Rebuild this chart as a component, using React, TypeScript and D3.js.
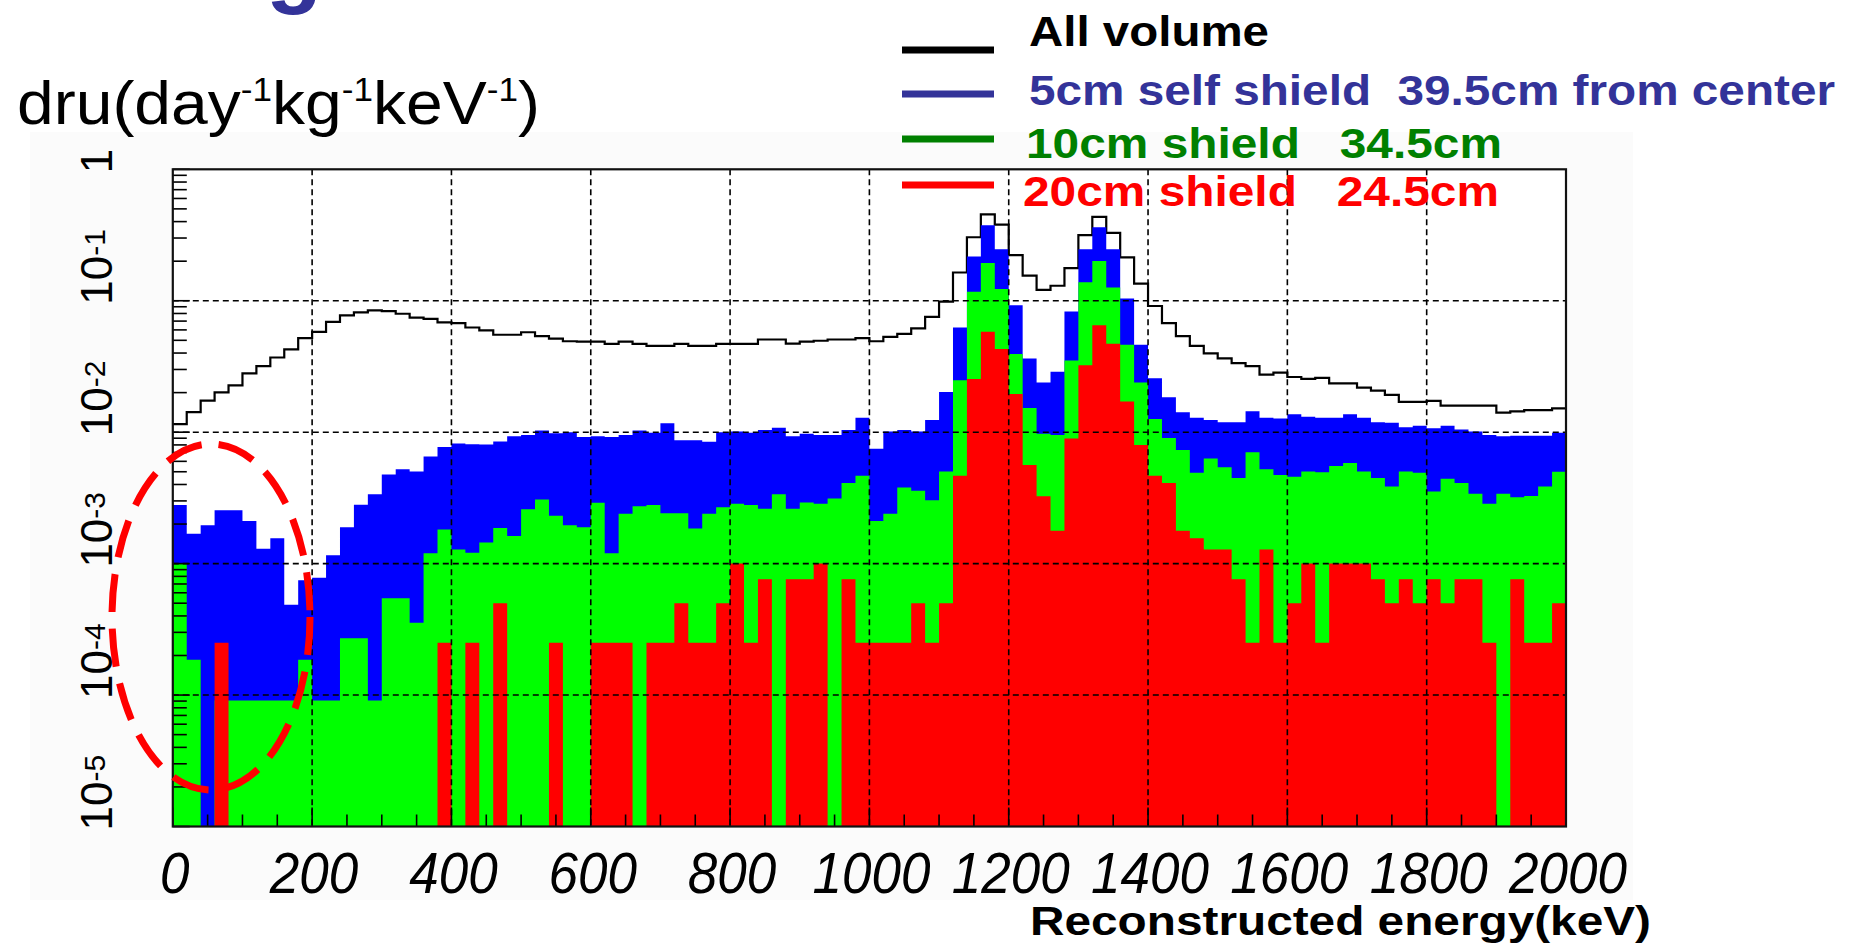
import React from 'react';
import * as d3 from 'd3';

// ---------- data (dru per 20 keV bin, 0-2000 keV) ----------
const binWidthKeV = 20;
const xTickValues = [0, 200, 400, 600, 800, 1000, 1200, 1400, 1600, 1800, 2000];
const yDecadeExponents = [0, -1, -2, -3, -4, -5];

const allVolume = [
  1.15e-2, 1.42e-2, 1.74e-2, 2.01e-2, 2.27e-2, 2.80e-2, 3.18e-2, 3.70e-2, 4.27e-2, 5.19e-2,
  5.80e-2, 6.90e-2, 7.73e-2, 8.15e-2, 8.46e-2, 8.33e-2, 7.96e-2, 7.44e-2, 7.28e-2, 6.85e-2,
  6.75e-2, 6.26e-2, 5.94e-2, 5.51e-2, 5.51e-2, 5.76e-2, 5.38e-2, 5.15e-2, 4.92e-2, 4.89e-2,
  4.89e-2, 4.70e-2, 4.89e-2, 4.70e-2, 4.53e-2, 4.53e-2, 4.70e-2, 4.53e-2, 4.53e-2, 4.70e-2,
  4.70e-2, 4.70e-2, 5.07e-2, 5.07e-2, 4.72e-2, 4.89e-2, 4.96e-2, 5.07e-2, 5.07e-2, 5.19e-2,
  4.92e-2, 5.31e-2, 5.60e-2, 6.17e-2, 7.55e-2, 9.84e-2, 0.164, 0.304, 0.454, 0.38,
  0.222, 0.155, 0.121, 0.130, 0.177, 0.316, 0.434, 0.328, 0.214, 0.135,
  9.12e-2, 6.75e-2, 5.38e-2, 4.53e-2, 3.98e-2, 3.64e-2, 3.35e-2, 3.18e-2, 2.74e-2, 2.84e-2,
  2.63e-2, 2.54e-2, 2.59e-2, 2.35e-2, 2.35e-2, 2.18e-2, 2.07e-2, 1.92e-2, 1.70e-2, 1.70e-2,
  1.73e-2, 1.59e-2, 1.59e-2, 1.59e-2, 1.59e-2, 1.41e-2, 1.44e-2, 1.47e-2, 1.47e-2, 1.52e-2,
];

const selfShield5cm = [
  2.79e-3, 1.69e-3, 1.96e-3, 2.55e-3, 2.55e-3, 2.11e-3, 1.30e-3, 1.56e-3, 4.87e-4, 7.48e-4,
  7.82e-4, 1.16e-3, 1.89e-3, 2.81e-3, 3.37e-3, 4.77e-3, 5.22e-3, 5.02e-3, 6.54e-3, 7.71e-3,
  8.2e-3, 8.1e-3, 8.05e-3, 8.5e-3, 9.3e-3, 9.5e-3, 1.03e-2, 9.8e-3, 1.0e-2, 9.2e-3,
  9.3e-3, 9.2e-3, 9.5e-3, 1.03e-2, 9.9e-3, 1.17e-2, 8.7e-3, 8.7e-3, 8.45e-3, 1.0e-2,
  1.01e-2, 9.9e-3, 1.04e-2, 1.08e-2, 9.3e-3, 9.75e-3, 9.5e-3, 9.5e-3, 1.04e-2, 1.29e-2,
  7.49e-3, 1.01e-2, 1.04e-2, 1.01e-2, 1.24e-2, 2.02e-2, 6.26e-2, 0.217, 0.376, 0.246,
  9.26e-2, 3.64e-2, 2.39e-2, 2.88e-2, 8.27e-2, 0.246, 0.362, 0.246, 0.104, 4.63e-2,
  2.57e-2, 1.84e-2, 1.42e-2, 1.29e-2, 1.24e-2, 1.19e-2, 1.19e-2, 1.44e-2, 1.29e-2, 1.27e-2,
  1.37e-2, 1.31e-2, 1.29e-2, 1.29e-2, 1.37e-2, 1.29e-2, 1.19e-2, 1.18e-2, 1.09e-2, 1.12e-2,
  1.07e-2, 1.12e-2, 1.05e-2, 1.01e-2, 9.5e-3, 9.3e-3, 9.4e-3, 9.4e-3, 9.4e-3, 9.9e-3,
];

const shield10cm = [
  1.0e-3, 1.86e-4, 0, 9.1e-5, 9.1e-5, 9.1e-5, 9.1e-5, 9.1e-5, 9.1e-5, 1.86e-4,
  9.1e-5, 9.1e-5, 2.71e-4, 2.71e-4, 9.1e-5, 5.45e-4, 5.45e-4, 3.55e-4, 1.2e-3, 1.82e-3,
  1.28e-3, 1.21e-3, 1.45e-3, 1.87e-3, 1.62e-3, 2.59e-3, 3.08e-3, 2.31e-3, 1.96e-3, 1.89e-3,
  2.90e-3, 1.20e-3, 2.40e-3, 2.73e-3, 2.79e-3, 2.42e-3, 2.42e-3, 1.85e-3, 2.40e-3, 2.69e-3,
  2.86e-3, 2.79e-3, 2.61e-3, 3.37e-3, 2.61e-3, 2.92e-3, 2.86e-3, 3.13e-3, 4.1e-3, 4.66e-3,
  2.11e-3, 2.40e-3, 3.8e-3, 3.58e-3, 3.03e-3, 5.02e-3, 2.48e-2, 0.117, 0.194, 0.123,
  3.93e-2, 1.53e-2, 9.75e-3, 9.5e-3, 3.51e-2, 0.138, 0.201, 0.126, 4.63e-2, 2.39e-2,
  1.26e-2, 9.04e-3, 7.32e-3, 4.91e-3, 6.3e-3, 5.42e-3, 4.49e-3, 7.05e-3, 5.22e-3, 4.73e-3,
  4.59e-3, 5.02e-3, 4.95e-3, 5.54e-3, 5.84e-3, 5.02e-3, 4.49e-3, 3.86e-3, 5.02e-3, 4.91e-3,
  3.53e-3, 4.42e-3, 4.1e-3, 3.40e-3, 2.86e-3, 3.40e-3, 3.2e-3, 3.27e-3, 3.86e-3, 4.99e-3,
];

const shield20cm = [
  0, 0, 0, 2.5e-4, 0, 0, 0, 0, 0, 0,
  0, 0, 0, 0, 0, 0, 0, 0, 0, 2.5e-4,
  0, 2.5e-4, 0, 5.0e-4, 0, 0, 0, 2.5e-4, 0, 0,
  2.5e-4, 2.5e-4, 2.5e-4, 0, 2.5e-4, 2.5e-4, 5.0e-4, 2.5e-4, 2.5e-4, 5.0e-4,
  1.0e-3, 2.5e-4, 7.6e-4, 0, 7.6e-4, 7.6e-4, 1.0e-3, 0, 7.6e-4, 2.5e-4,
  2.5e-4, 2.5e-4, 2.5e-4, 5.0e-4, 2.5e-4, 5.0e-4, 4.66e-3, 2.54e-2, 5.8e-2, 4.3e-2,
  1.95e-2, 5.62e-3, 3.25e-3, 1.78e-3, 8.97e-3, 3.23e-2, 6.5e-2, 4.7e-2, 1.71e-2, 8.0e-3,
  4.66e-3, 4.1e-3, 1.78e-3, 1.56e-3, 1.28e-3, 1.28e-3, 7.6e-4, 2.5e-4, 1.28e-3, 2.5e-4,
  5.0e-4, 1.0e-3, 2.5e-4, 1.0e-3, 1.0e-3, 1.0e-3, 7.6e-4, 5.0e-4, 7.6e-4, 5.0e-4,
  7.6e-4, 5.0e-4, 7.6e-4, 7.6e-4, 2.5e-4, 0, 7.6e-4, 2.5e-4, 2.5e-4, 5.0e-4,
];

const legendLabels = [
  'All volume',
  '5cm self shield  39.5cm from center',
  '10cm shield   34.5cm',
  '20cm shield   24.5cm',
];
const yAxisTitle = 'dru';
const xAxisTitle = 'Reconstructed energy(keV)';
const slideTitle = 'Background';

// ---------- layout ----------
const W = 1856;
const H = 946;
const P = { left: 172.8, right: 1566, top: 169.3, bottom: 826.5 };
const FONT = '"Liberation Sans", Arial, Helvetica, sans-serif';

const x = d3.scaleLinear().domain([0, 2000]).range([P.left, P.right]);
const y = d3.scaleLog().domain([1e-5, 1]).range([P.bottom, P.top]);
const yMin = 1e-5;

function yClamp(v: number) {
  return v > yMin ? y(Math.min(v, 1)) : y(yMin);
}

function stepArea(values: number[]) {
  const yb = y(yMin);
  let d = `M${x(0)},${yb}`;
  values.forEach((v, i) => {
    const yy = yClamp(v);
    d += `L${x(i * binWidthKeV)},${yy}L${x((i + 1) * binWidthKeV)},${yy}`;
  });
  d += `L${x(values.length * binWidthKeV)},${yb}Z`;
  return d;
}

function stepLine(values: number[]) {
  let d = '';
  values.forEach((v, i) => {
    const yy = yClamp(v);
    d += `${i === 0 ? 'M' : 'L'}${x(i * binWidthKeV)},${yy}L${x((i + 1) * binWidthKeV)},${yy}`;
  });
  return d;
}

const series = [
  { values: selfShield5cm, fill: '#0000ff' },
  { values: shield10cm, fill: '#00ff00' },
  { values: shield20cm, fill: '#ff0000' },
];

const legend = [
  { label: legendLabels[0], color: '#000000', lineY: 50, baseY: 46, x0: 1029, len: 240 },
  { label: legendLabels[1], color: '#333399', lineY: 94, baseY: 105, x0: 1029, len: 806 },
  { label: legendLabels[2], color: '#008000', lineY: 139, baseY: 158, x0: 1026, len: 476 },
  { label: legendLabels[3], color: '#ff0000', lineY: 185, baseY: 206, x0: 1023, len: 476 },
];

export default function App() {
  const gridX = xTickValues.filter((v) => v > 0 && v < 2000);
  const gridY = yDecadeExponents.filter((e) => e < 0 && e > -5).map((e) => Math.pow(10, e));
  const minorX = d3.range(50, 2000, 50).filter((v) => v % 200 !== 0);
  const minorY: number[] = [];
  for (let e = -5; e < 0; e++) {
    for (let m = 2; m <= 9; m++) minorY.push(m * Math.pow(10, e));
  }

  return (
    <svg
      width={W}
      height={H}
      viewBox={`0 0 ${W} ${H}`}
      style={{ position: 'absolute', left: 0, top: 0, background: '#ffffff' }}
      fontFamily={FONT}
    >
      <rect x={0} y={0} width={W} height={H} fill="#ffffff" />
      {/* clipped slide title: only the descender of the g shows */}
      <text x={46} y={-4} fontSize={92} fontWeight="bold" fill="#333399">
        {slideTitle}
      </text>
      {/* picture background */}
      <rect x={30} y={132} width={1603} height={768} fill="#fbfbfb" />
      <rect x={P.left} y={P.top} width={P.right - P.left} height={P.bottom - P.top} fill="#ffffff" />

      {/* histograms */}
      <path d={stepLine(allVolume)} fill="none" stroke="#000" strokeWidth={2.2} />
      {series.map((s, i) => (
        <path key={i} d={stepArea(s.values)} fill={s.fill} stroke="none" />
      ))}

      {/* grid */}
      <g stroke="#000" strokeWidth={1.6} strokeDasharray="6,4">
        {gridX.map((v) => (
          <line key={`gx${v}`} x1={x(v)} x2={x(v)} y1={P.top} y2={P.bottom} />
        ))}
        {gridY.map((v) => (
          <line key={`gy${v}`} x1={P.left} x2={P.right} y1={y(v)} y2={y(v)} />
        ))}
      </g>

      {/* ticks */}
      <g stroke="#000" strokeWidth={1.6}>
        {xTickValues.map((v) => (
          <line key={`tx${v}`} x1={x(v)} x2={x(v)} y1={P.bottom} y2={P.bottom - 19} />
        ))}
        {minorX.map((v) => (
          <line key={`mx${v}`} x1={x(v)} x2={x(v)} y1={P.bottom} y2={P.bottom - 12} />
        ))}
        {yDecadeExponents.map((e) => (
          <line key={`ty${e}`} x1={P.left} x2={P.left + 17} y1={y(Math.pow(10, e))} y2={y(Math.pow(10, e))} />
        ))}
        {minorY.map((v, i) => (
          <line key={`my${i}`} x1={P.left} x2={P.left + 14} y1={y(v)} y2={y(v)} />
        ))}
      </g>

      {/* frame */}
      <rect
        x={P.left}
        y={P.top}
        width={P.right - P.left}
        height={P.bottom - P.top}
        fill="none"
        stroke="#111"
        strokeWidth={2.2}
      />

      {/* y tick labels (rotated) */}
      {yDecadeExponents.map((e) => (
        <text
          key={`yl${e}`}
          transform={`translate(112, ${y(Math.pow(10, e)) + 4}) rotate(-90)`}
          fontSize={44}
          fill="#000"
          textAnchor="start"
        >
          {e === 0 ? '1' : '10'}
          {e !== 0 && (
            <tspan dy={-7} fontSize={30}>
              {`-${-e}`}
            </tspan>
          )}
        </text>
      ))}

      {/* x tick labels */}
      {xTickValues.map((v) => {
        const n = String(v).length;
        return (
          <text
            key={`xl${v}`}
            x={x(v) + 2}
            y={893}
            fontSize={58}
            fontStyle="italic"
            textAnchor="middle"
            textLength={n * 29.5}
            lengthAdjust="spacingAndGlyphs"
            fill="#000"
          >
            {v}
          </text>
        );
      })}

      {/* axis titles */}
      <text
        x={1651}
        y={935}
        fontSize={41}
        fontWeight="bold"
        textAnchor="end"
        textLength={621}
        lengthAdjust="spacingAndGlyphs"
        fill="#000"
      >
        {xAxisTitle}
      </text>
      <text x={17} y={124} fontSize={62} fill="#000" textLength={523} lengthAdjust="spacingAndGlyphs">
        {yAxisTitle}(day
        <tspan dy={-23} fontSize={33}>-1</tspan>
        <tspan dy={23}>kg</tspan>
        <tspan dy={-23} fontSize={33}>-1</tspan>
        <tspan dy={23}>keV</tspan>
        <tspan dy={-23} fontSize={33}>-1</tspan>
        <tspan dy={23}>)</tspan>
      </text>

      {/* legend */}
      {legend.map((l) => (
        <g key={l.label}>
          <line x1={902} x2={994} y1={l.lineY} y2={l.lineY} stroke={l.color} strokeWidth={7} />
          <text
            x={l.x0}
            y={l.baseY}
            fontSize={42}
            fontWeight="bold"
            fill={l.color}
            textLength={l.len}
            lengthAdjust="spacingAndGlyphs"
            style={{ whiteSpace: 'pre' }}
          >
            {l.label}
          </text>
        </g>
      ))}

      {/* highlight ellipse */}
      <ellipse
        cx={211}
        cy={617}
        rx={99}
        ry={173}
        fill="none"
        stroke="#ff0000"
        strokeWidth={7}
        strokeDasharray="38,17"
      />
    </svg>
  );
}
